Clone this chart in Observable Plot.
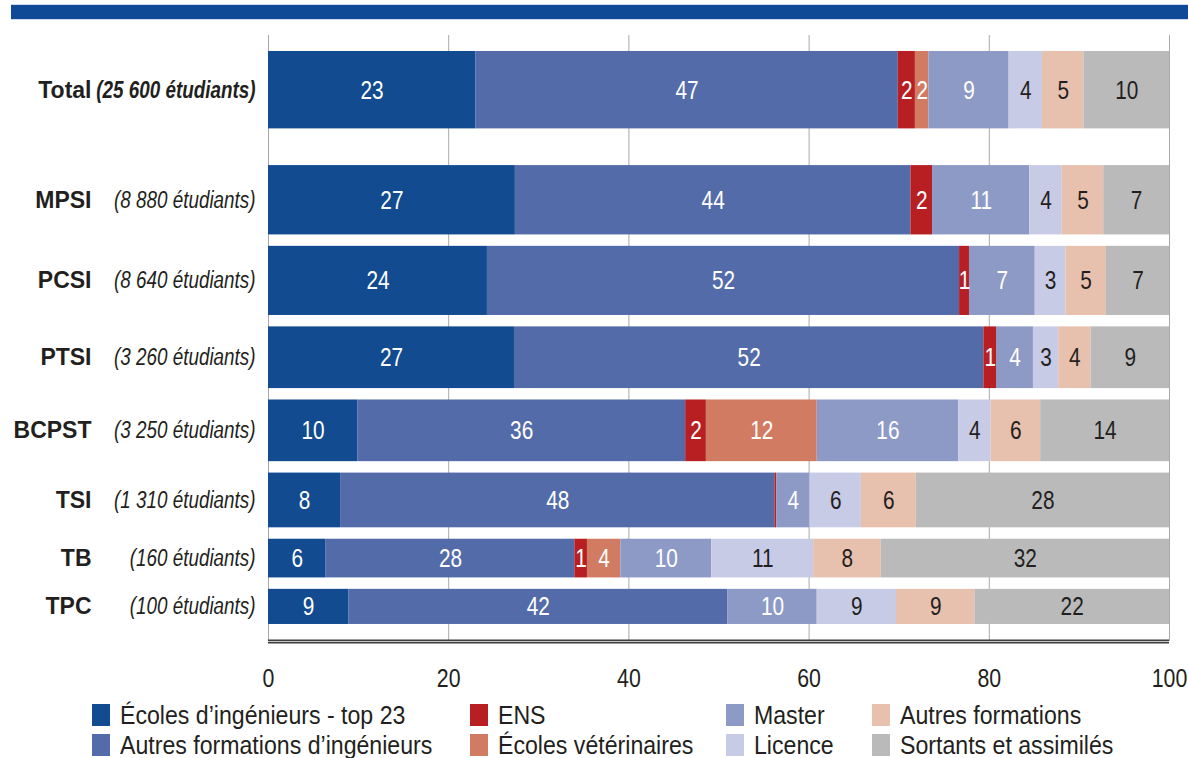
<!DOCTYPE html>
<html><head><meta charset="utf-8">
<script src="https://cdn.jsdelivr.net/npm/d3@7"></script>
<script src="https://cdn.jsdelivr.net/npm/@observablehq/plot@0.6"></script>
<style>
body{margin:0;background:#fff;width:1188px;height:758px;position:relative;overflow:hidden;font-family:"Liberation Sans",Arial,sans-serif;}
#band{position:absolute;left:11px;right:0;top:5px;height:14px;background:#0f4a97;box-shadow:0 -1px 0 #cfdaee,0 1px 0 #cfdaee;}
#chart{position:absolute;left:0;top:0;}
#legend{position:absolute;left:92px;top:702px;display:grid;grid-template-columns:378px 256px 146px auto;grid-template-rows:repeat(2,26px);grid-auto-flow:column;row-gap:4px;font-size:25px;color:#231f20;}
.item{display:flex;align-items:center;white-space:nowrap}
.sw{width:18px;height:22px;margin-right:10px;flex:none}
.tx{display:inline-block;transform:scaleX(0.925);transform-origin:left center}
</style></head><body>
<div id="band"></div><div id="chart"></div><div id="legend"></div>
<script>
// ---- data ----
const rows = ["Total", "MPSI", "PCSI", "PTSI", "BCPST", "TSI", "TB", "TPC"];
const students = [25600, 8880, 8640, 3260, 3250, 1310, 160, 100];
const countLabels = ["(25 600 étudiants)", "(8 880 étudiants)", "(8 640 étudiants)", "(3 260 étudiants)",
  "(3 250 étudiants)", "(1 310 étudiants)", "(160 étudiants)", "(100 étudiants)"];
const categories = ["Écoles d’ingénieurs - top 23", "Autres formations d’ingénieurs", "ENS", "Écoles vétérinaires",
  "Master", "Licence", "Autres formations", "Sortants et assimilés"];
const colors = ["#124b8f", "#536ca9", "#b71f23", "#d27b63", "#8e9ac6", "#c8cbe5", "#e8c0ae", "#bababa"];
const darkText = ["Licence", "Autres formations", "Sortants et assimilés"];
// series values (% of each row), in row order
const top23      = [23.0, 27.4, 24.3, 27.3,  9.9,  8.0,  6.4,  8.9];
const autresIng  = [46.9, 43.9, 52.4, 52.1, 36.4, 48.2, 27.6, 42.1];
const ens        = [ 1.9,  2.4,  1.1,  1.4,  2.3,  0.2,  1.4,  0.0];
const veto       = [ 1.5,  0.0,  0.0,  0.0, 12.3,  0.0,  3.7,  0.0];
const master     = [ 8.9, 10.8,  7.3,  4.1, 15.7,  3.7, 10.1,  9.9];
const licence    = [ 3.7,  3.6,  3.4,  2.8,  3.6,  5.7, 11.3,  8.8];
const autresForm = [ 4.6,  4.6,  4.5,  3.6,  5.5,  6.1,  7.5,  8.7];
const sortants   = [ 9.5,  7.3,  7.0,  8.7, 14.3, 28.1, 32.0, 21.6];
const xTicks = [0, 20, 40, 60, 80, 100];

// ---- layout: bar thickness proportional to log10(number of students) ----
const series = [top23, autresIng, ens, veto, master, licence, autresForm, sortants];
const padTop = 0.91, gap = 0.65, groupGap = 2.09, padBottom = 0.97;
let cursor = padTop;
const bands = rows.map((r, i) => {
  const y1 = cursor, y2 = cursor + Math.log10(students[i]);
  cursor = y2 + (i === 0 ? groupGap : gap);
  return {row: r, count: countLabels[i], y1, y2, ym: (y1 + y2) / 2};
});
const D = bands[bands.length - 1].y2 + padBottom;

const table = rows.flatMap((r, i) => categories.map((c, j) => ({
  row: r, cat: c, value: series[j][i], y1: bands[i].y1, y2: bands[i].y2, ym: bands[i].ym,
  dark: darkText.includes(c)
})));
const lab = v => Math.round(v) >= 1 ? String(Math.round(v)) : "";

const chart = Plot.plot({
  width: 1188, height: 700,
  marginLeft: 268, marginRight: 19, marginTop: 35, marginBottom: 59,
  style: {fontFamily: "'Liberation Sans',Arial,sans-serif", fontSize: "26px", color: "#231f20", background: "transparent"},
  x: {domain: [0, 100], ticks: xTicks, tickSize: 0, tickPadding: 27, label: null, tickFormat: d => d},
  y: {domain: [0, D], reverse: true, axis: null},
  color: {domain: categories, range: colors},
  marks: [
    Plot.ruleX(xTicks, {stroke: "#a9a9a9", strokeWidth: 1}),
    Plot.rect(table, Plot.stackX({x: "value", y1: "y1", y2: "y2", fill: "cat"})),
    // text marks (order matters for the condensing step below)
    Plot.text(table, Plot.stackX({x: "value", y: "ym", text: d => d.dark ? "" : lab(d.value), fill: "white", fontSize: 26})),
    Plot.text(table, Plot.stackX({x: "value", y: "ym", text: d => d.dark ? lab(d.value) : "", fill: "#231f20", fontSize: 26})),
    Plot.text(bands, {filter: d => d.row === "Total", frameAnchor: "left", y: "ym", text: "count", textAnchor: "end", dx: -13,
      fontWeight: "bold", fontStyle: "italic", fontSize: 23, fill: "#231f20"}),
    Plot.text(bands, {filter: d => d.row !== "Total", frameAnchor: "left", y: "ym", text: "count", textAnchor: "end", dx: -13,
      fontStyle: "italic", fontSize: 23, fill: "#231f20"}),
    Plot.text(bands, {frameAnchor: "left", y: "ym", text: "row", textAnchor: "end", dx: -177,
      fontWeight: "bold", fontSize: 23, fill: "#231f20"}),
    Plot.ruleY([D], {stroke: "#3d3d3d", strokeWidth: 4}),
    Plot.ruleY([D], {stroke: "#c8c8c8", strokeWidth: 1.2})
  ]
});

// condensed look: horizontally compress texts about their anchor point
function condense(texts, k) {
  texts.forEach(t => {
    const tr = t.getAttribute("transform") || "";
    t.setAttribute("transform", (tr + ` scale(${k},1)`).trim());
  });
}
const textGroups = chart.querySelectorAll('g[aria-label="text"]');
textGroups.forEach((g, i) => {
  if (i < 2) condense(g.querySelectorAll("text"), 0.8);          // values in bars
  else if (i < 4) condense(g.querySelectorAll("text"), 0.82);    // student counts
});
condense(chart.querySelectorAll('g[aria-label="x-axis tick label"] text'), 0.82);
document.getElementById("chart").append(chart);

const legend = document.getElementById("legend");
categories.forEach((c, j) => {
  const it = document.createElement("div");
  it.className = "item";
  const sw = document.createElement("span");
  sw.className = "sw"; sw.style.background = colors[j];
  const tx = document.createElement("span");
  tx.className = "tx";
  tx.textContent = c;
  it.append(sw, tx);
  legend.append(it);
});
</script>
</body></html>
